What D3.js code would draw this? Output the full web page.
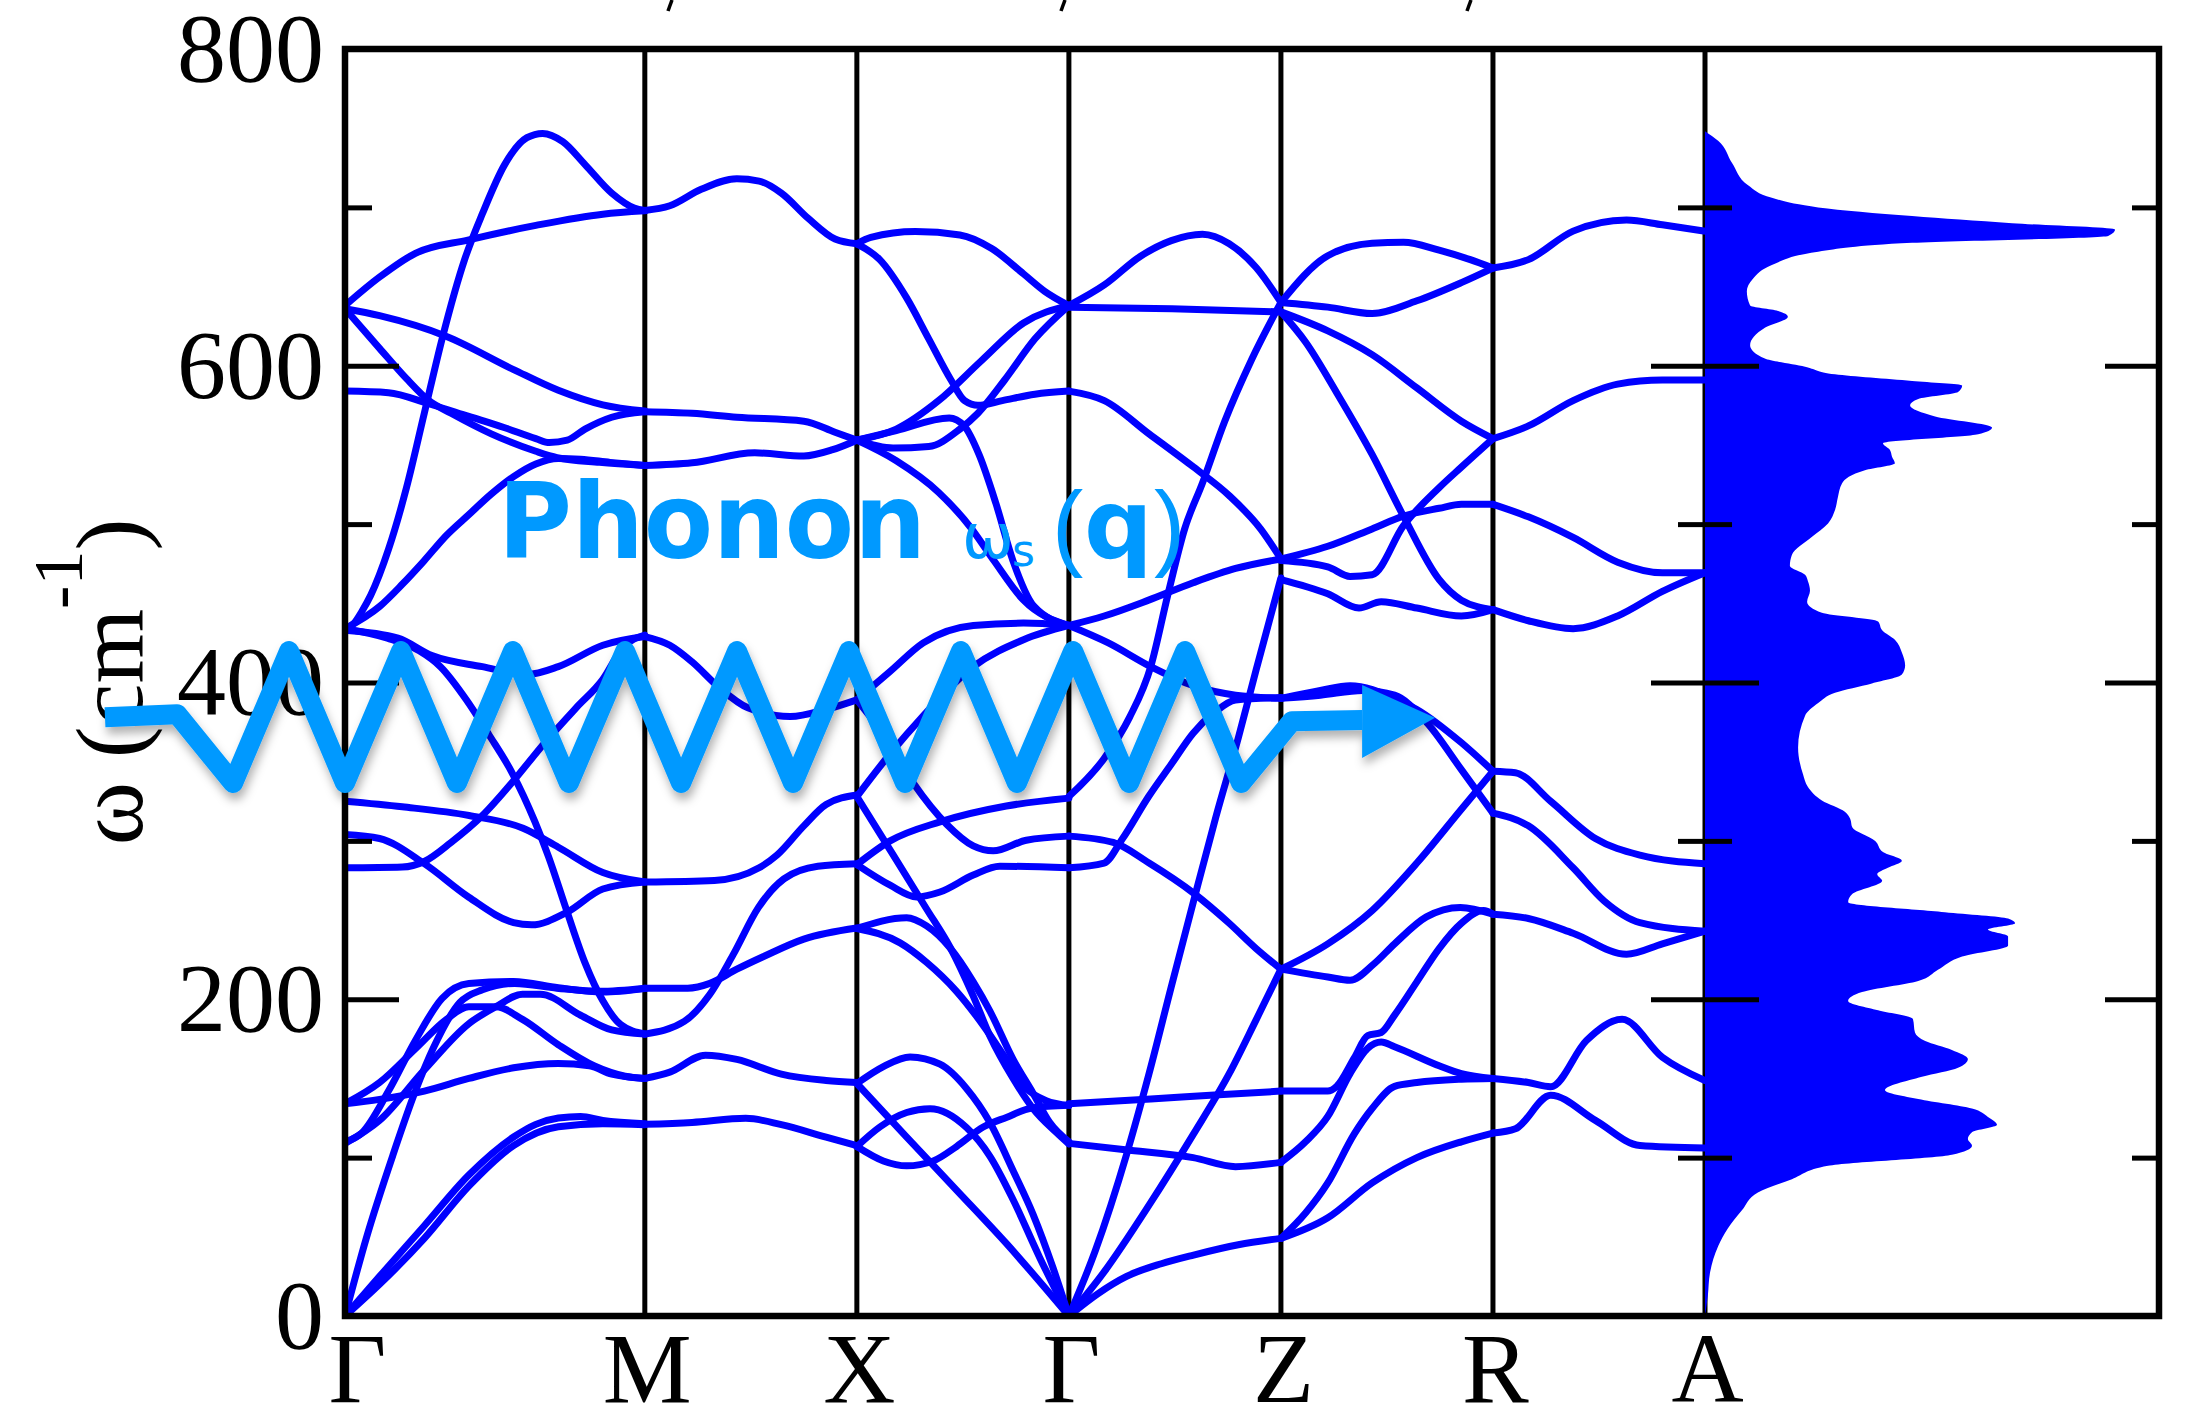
<!DOCTYPE html>
<html>
<head>
<meta charset="utf-8">
<script src="https://cdn.jsdelivr.net/npm/d3@7"></script>
<style>
  html, body { margin: 0; padding: 0; background: #fff; }
  svg { display: block; }
</style>
</head>
<body>
<svg id="chart" width="2188" height="1412"></svg>
<script>
// high-symmetry path, distance in units of a*/2
const pathLabels = ['Γ', 'M', 'X', 'Γ', 'Z', 'R', 'A'];
const pathK = [0, 1.414, 2.414, 3.414, 4.414, 5.414, 6.414];
const yTicks = [0, 200, 400, 600, 800];
const yMinor = [100, 300, 500, 700];

// phonon branches, [k, omega (cm-1)], one list per segment
const gammaM = [
  [[0,434],[0.04,437],[0.08,445],[0.121,455],[0.205,484],[0.29,523],[0.374,570],[0.458,617],[0.564,667],[0.648,696],[0.753,727],[0.858,744],[0.932,746.7],[1.027,741.5],[1.132,727],[1.258,709],[1.364,699.6],[1.414,698]],
  [[0,638],[0.163,656],[0.332,671],[0.584,679.5],[0.9,688.6],[1.216,695.7],[1.414,697.8]],
  [[0,636],[0.163,631.6],[0.479,618.5],[0.795,597.6],[1.006,584.5],[1.216,575.3],[1.414,571.4]],
  [[0,636],[0.163,611],[0.289,592],[0.395,578],[0.5,570],[0.69,557],[0.9,546],[1.0,542],[1.2,539],[1.414,537]],
  [[0,584],[0.205,583],[0.395,576],[0.584,568],[0.75,561],[0.9,554],[0.964,551.5],[1.048,553],[1.132,560],[1.258,567.5],[1.414,571]],
  [[0,434],[0.163,448],[0.27,462],[0.374,477],[0.479,493],[0.584,506],[0.69,519],[0.795,530],[0.9,538],[1.006,541.5],[1.111,541],[1.25,539],[1.414,537]],
  [[0,433],[0.25,428],[0.41,417],[0.648,410],[0.858,405],[1.006,410],[1.216,423.5],[1.414,429]],
  [[0,434],[0.2,428],[0.35,420],[0.45,410],[0.573,389],[0.679,367],[0.788,343],[0.896,312],[0.96,290],[1.048,255],[1.132,223],[1.216,199],[1.3,184],[1.414,178]],
  [[0,283],[0.27,283.5],[0.374,287],[0.5,299],[0.648,316],[0.795,338],[0.942,362],[1.09,384],[1.216,402],[1.31,422],[1.414,430]],
  [[0,325],[0.27,321.5],[0.585,316],[0.84,308],[1.006,296],[1.216,280],[1.414,274]],
  [[0,304],[0.163,301.5],[0.374,285.6],[0.584,264.4],[0.795,248.4],[0.88,247],[1.048,255],[1.216,269.6],[1.414,274]],
  [[0,134],[0.163,136.8],[0.374,142],[0.584,150],[0.795,156.7],[1.006,159.4],[1.153,158],[1.258,152.7],[1.414,150]],
  [[0,110],[0.079,115.5],[0.205,142],[0.332,174],[0.458,200.6],[0.584,209.9],[0.795,211.2],[1.006,207.2],[1.216,204.5],[1.414,206.7]],
  [[0,108.9],[0.163,123.5],[0.374,155.4],[0.584,184.6],[0.711,195.2],[0.837,203.2],[0.921,203.2],[1.111,189.9],[1.258,180.6],[1.414,178]],
  [[0,134],[0.163,147.4],[0.332,168.7],[0.479,187.3],[0.584,195.2],[0.711,195.2],[0.837,187.3],[1.006,171.3],[1.174,158],[1.321,151.4],[1.414,150]],
  [[0,0],[0.1,49],[0.227,102],[0.332,142],[0.416,169],[0.542,198],[0.648,206],[0.8,210],[1.0,207],[1.2,205],[1.414,207]],
  [[0,0],[0.163,25],[0.374,57],[0.584,89],[0.795,113],[0.9,121],[1.006,125],[1.111,126],[1.216,123.5],[1.414,121.4]],
  [[0,0],[0.163,20],[0.374,49],[0.584,82],[0.795,107.6],[1.006,119.5],[1.216,121.4],[1.414,120.8]]
];

const mX = [
  [[1.414,698],[1.532,701],[1.68,711.4],[1.848,718],[1.953,716.6],[2.058,709],[2.185,693],[2.311,680],[2.414,677]],
  [[1.414,571],[1.637,570],[1.848,567.5],[2.164,565],[2.311,558],[2.414,553]],
  [[1.414,537],[1.637,538.7],[1.932,545],[2.164,543],[2.3,547],[2.414,553]],
  [[1.414,429],[1.532,423.5],[1.637,413],[1.763,397],[1.9,384],[2.1,378.5],[2.27,383],[2.414,389]],
  [[1.414,274],[1.742,275],[1.953,283],[2.037,291],[2.164,309.5],[2.269,323],[2.414,329]],
  [[1.414,178],[1.6,186],[1.72,203],[1.83,228],[1.95,258],[2.07,276],[2.23,284],[2.414,285.6]],
  [[1.414,207],[1.616,207],[1.721,210],[1.848,219],[1.974,227],[2.164,238],[2.414,245]],
  [[1.414,150],[1.532,154],[1.7,164.7],[1.848,162],[2.058,152.7],[2.269,148.7],[2.414,147.4]],
  [[1.414,121],[1.637,122.2],[1.89,124.8],[2.058,120.8],[2.269,112.9],[2.414,107.6]]
];

const xGamma = [
  [[2.414,677],[2.48,681],[2.69,684.7],[2.9,682.6],[3.05,674],[3.2,658],[3.3,647],[3.414,638]],
  [[2.414,677],[2.522,667],[2.648,643],[2.753,617],[2.858,591],[2.922,578],[2.985,575],[3.1,578],[3.254,582],[3.414,584]],
  [[2.414,553],[2.6,560],[2.8,578],[3.0,603],[3.2,627],[3.414,638]],
  [[2.414,553],[2.585,548],[2.753,549],[2.9,560],[2.985,570],[3.111,591],[3.254,617],[3.414,638]],
  [[2.414,553],[2.6,559],[2.85,567],[2.92,562],[2.99,544],[3.07,513],[3.15,477],[3.25,448],[3.414,436]],
  [[2.414,553],[2.6,540],[2.8,520],[2.95,498],[3.06,477],[3.2,452],[3.414,436]],
  [[2.414,389],[2.571,407],[2.727,425],[2.963,436],[3.2,437.5],[3.414,436]],
  [[2.414,328],[2.571,355],[2.727,379],[2.963,410],[3.2,427],[3.414,436]],
  [[2.414,328],[2.586,291],[2.743,257],[2.853,233],[2.963,202],[3.041,177],[3.151,150],[3.245,131],[3.354,116],[3.414,108.6]],
  [[2.414,285],[2.571,300],[2.806,312],[3.119,322],[3.414,327]],
  [[2.414,285],[2.571,272],[2.696,264.6],[2.806,267.7],[2.963,278.4],[3.088,284],[3.414,283]],
  [[2.414,389],[2.539,367],[2.68,336.5],[2.837,310.5],[2.963,296.8],[3.057,293.7],[3.213,300.4],[3.414,303]],
  [[2.414,244.7],[2.649,251.5],[2.743,246.3],[2.853,232.5],[2.963,211],[3.041,192.7],[3.151,162],[3.245,140.7],[3.323,122.3],[3.414,110]],
  [[2.414,244.7],[2.618,235.6],[2.743,223.3],[2.884,205],[3.01,183.5],[3.119,162],[3.213,143.7],[3.307,136],[3.414,133]],
  [[2.414,146.8],[2.539,157.5],[2.665,163.6],[2.806,159],[2.931,143.7],[3.041,122.3],[3.151,91.7],[3.245,64.2],[3.339,30.5],[3.414,0]],
  [[2.414,146.8],[2.649,113],[2.884,79.5],[3.119,45.8],[3.414,0]],
  [[2.414,107],[2.524,119.5],[2.649,128.5],[2.759,130.9],[2.931,119],[3.041,101],[3.151,73.4],[3.276,37],[3.414,0]],
  [[2.414,107],[2.539,97.9],[2.649,94.8],[2.774,97.9],[2.884,107],[3.01,119.3],[3.119,125.4],[3.245,131.5],[3.414,133]]
];

const gammaZ = [
  [[3.414,638],[3.581,651],[3.75,669],[3.897,679],[4.044,683],[4.17,677],[4.297,662],[4.414,640]],
  [[3.414,637],[3.9,636],[4.414,634]],
  [[3.414,584],[3.581,578],[3.792,557],[4.002,536],[4.17,518],[4.318,497],[4.414,478]],
  [[3.414,436],[3.58,442],[3.79,452],[4.0,463],[4.2,472],[4.414,478]],
  [[3.414,436],[3.6,425],[3.8,410],[4.0,398],[4.2,392],[4.414,390]],
  [[3.414,328],[3.58,352],[3.7,378],[3.8,410],[3.88,455],[3.96,497],[4.044,526],[4.149,565],[4.276,604],[4.414,640]],
  [[3.414,283],[3.58,286],[3.665,301],[3.79,328],[3.9,349],[4.0,368],[4.1,381],[4.2,389],[4.414,390.5]],
  [[3.414,303],[3.623,299],[3.792,286],[4.002,267],[4.17,248],[4.297,232],[4.414,219]],
  [[3.414,0],[3.581,28],[3.792,70],[4.002,115],[4.17,153],[4.297,187],[4.414,219]],
  [[3.414,0],[3.55,14],[3.686,25],[3.85,33],[4.002,38.5],[4.213,45],[4.414,49]],
  [[3.414,0],[3.538,41],[3.686,102],[3.792,153],[3.897,208],[4.002,262],[4.107,315],[4.213,365],[4.297,408],[4.414,466]],
  [[3.414,134],[3.8,137],[4.1,139.5],[4.414,142]],
  [[3.414,109],[3.68,105],[4.0,100],[4.2,94.3],[4.414,97]]
];

const zR = [
  [[4.414,640],[4.635,669.5],[4.844,677.4],[4.992,678],[5.16,673],[5.307,667],[5.414,661.7]],
  [[4.414,640],[4.635,637],[4.844,633],[5.055,641],[5.265,652.5],[5.414,661.7]],
  [[4.414,634],[4.635,622],[4.844,607],[5.055,586],[5.265,565],[5.414,554]],
  [[4.414,634],[4.53,615],[4.677,583],[4.844,544],[4.992,505],[5.16,465],[5.265,452],[5.414,446]],
  [[4.414,478],[4.635,486],[4.844,497],[4.992,505],[5.16,510],[5.265,512.5],[5.414,512.5]],
  [[4.414,477],[4.635,473],[4.74,467],[4.844,468],[4.992,499],[5.16,523],[5.265,536],[5.414,554]],
  [[4.414,465],[4.635,456],[4.782,447],[4.887,451],[5.055,447],[5.265,442],[5.414,446]],
  [[4.414,390],[4.6,395],[4.74,398],[4.95,390],[5.055,383],[5.265,362],[5.414,344]],
  [[4.414,390],[4.6,392],[4.8,395],[4.95,392],[5.1,375],[5.265,345],[5.414,317.5]],
  [[4.414,219],[4.635,214],[4.74,212],[4.85,222],[4.95,235],[5.1,252],[5.26,258],[5.414,253.7]],
  [[4.414,142],[4.635,142],[4.677,145],[4.76,163],[4.823,177],[4.887,179],[4.95,190],[5.055,211],[5.16,232],[5.265,248],[5.37,256],[5.414,253.7]],
  [[4.414,219],[4.635,235],[4.844,256],[5.055,286],[5.265,320],[5.414,344]],
  [[4.414,97],[4.53,110],[4.635,126],[4.74,153],[4.823,169],[4.887,173],[4.95,170],[5.16,158],[5.265,153],[5.414,150]],
  [[4.414,49],[4.53,65],[4.635,84],[4.76,115],[4.844,131],[4.95,145],[5.055,147.4],[5.265,149.5],[5.414,150]],
  [[4.414,49],[4.635,62],[4.844,84],[5.055,100],[5.265,110],[5.414,115.5]]
];

const rA = [
  [[5.414,661.7],[5.581,667],[5.792,685],[6.044,692],[6.213,689],[6.414,685]],
  [[5.414,554],[5.581,562],[5.792,578],[6.002,588.4],[6.213,591],[6.414,591]],
  [[5.414,512.5],[5.581,504.6],[5.792,491.6],[6.002,476],[6.213,469.3],[6.414,469.3]],
  [[5.414,446],[5.581,439],[5.792,434],[6.002,442],[6.213,457.5],[6.414,469.3]],
  [[5.414,344],[5.52,343],[5.686,325],[5.897,301.5],[6.107,291],[6.414,285.6]],
  [[5.414,317.5],[5.581,309.5],[5.792,283],[5.939,262],[6.107,248.4],[6.414,243]],
  [[5.414,253.7],[5.581,251],[5.792,241.7],[6.044,228.4],[6.213,235],[6.414,243]],
  [[5.414,150],[5.581,147.4],[5.686,144.7],[5.855,174],[6.023,187.3],[6.213,163.4],[6.414,148.7]],
  [[5.414,115.5],[5.52,118.2],[5.686,139.4],[5.897,123.5],[6.107,107.6],[6.414,106]]
];

// phonon density of states, [omega, DOS (arb. units)]
const dos = [
  [748,0],[742,3.2],[728,6.6],[714,10.5],[706,16.3],[700,27.6],[694.5,50.5],[690,74.9],[686,100],[682,98.3],
  [677.6,50.5],[672,27.6],[663.6,16.3],[655,11.7],[647,10.2],[638,11],[634.6,17.8],[631,20.2],[624,14.6],[613,11],
  [604.5,14.6],[599.4,24.4],[594.6,31.7],[590.4,50.5],[587.6,62.7],[583.4,61.7],[579,52],[575,50],[568,56.1],[561,70],
  [556.7,66.6],[551,43.4],[546.8,45.1],[542.6,45.6],[538.4,46.3],[534,39],[525.7,33.4],[517,32.4],[508.9,31.7],[500.4,30],
  [492,26.1],[480.7,21.2],[473.7,20.7],[468,24.4],[463.9,25.1],[458,25.6],[451,24.9],[444,28.5],[438.5,42.2],[433,43.2],
  [427,46.3],[419,48],[410.8,48.8],[405,48],[399.4,40.7],[393.5,31.7],[387,27.6],[379,24.4],[359,22.7],[342,23.9],
  [334,25.1],[325.5,28.5],[318.4,34.1],[314,35.4],[308.6,35.9],[300,41.5],[293,43.4],[287.5,48],[283,44.6],[279,42],
  [274.8,43.2],[266.4,35.9],[261.3,34.9],[255,58.5],[251,73.9],[248,75.6],[244,69],[239.7,73.9],[234,73.9],[227,62.7],
  [218.6,56.8],[211.5,52],[204.5,38.3],[198.9,34.9],[193,42.2],[187.6,50.7],[179,51.2],[173.6,53.7],[168,60.2],[162.3,64.1],
  [156.7,61.7],[151,52.9],[142.6,43.9],[137,52],[131,65.1],[125.7,69],[120.7,71.2],[116,65.1],[111.7,64.1],[107.5,65.1],
  [101.8,60.2],[94.8,30],[86.4,21.2],[78,12.9],[66.7,9],[55.4,5.6],[44,3.2],[27,1.2],[13,0.7],[0,0]
];

// schematic phonon arrow drawn across the bands, [k, omega]
const zigzag = [
  [-1.132,378],[-0.792,380],[-0.528,336.5],[-0.264,419.8],[0,336.5],[0.264,419.8],[0.528,336.5],[0.792,419.8],
  [1.056,336.5],[1.321,419.8],[1.585,336.5],[1.849,419.8],[2.113,336.5],[2.377,419.8],[2.641,336.5],[2.905,419.8],
  [3.169,336.5],[3.434,419.8],[3.698,336.5],[3.962,419.8],[4.226,336.5],[4.466,375.6],[4.797,376.3]
];
const arrowHead = [[4.797,398.4],[5.141,377.8],[4.797,352.3]];

const blue = '#0000ff';
const sky = '#0099ff';
const serif = "'Liberation Serif', 'Times New Roman', Times, serif";

const plot = { left: 345, right: 2159, top: 49, bottom: 1316, split: 1705 };

const x = d3.scaleLinear().domain([0, 6.414]).range([plot.left, plot.split]);
const y = d3.scaleLinear().domain([0, 800]).range([plot.bottom, plot.top]);
const xDos = d3.scaleLinear().domain([0, 110.7]).range([plot.split, plot.right]);

const svg = d3.select('#chart');
const defs = svg.append('defs');

defs.append('clipPath').attr('id', 'bandClip')
  .append('rect')
  .attr('x', plot.left).attr('y', plot.top)
  .attr('width', plot.split - plot.left).attr('height', plot.bottom - plot.top);

const shadow = defs.append('filter').attr('id', 'shadow')
  .attr('x', '-10%').attr('y', '-30%').attr('width', '120%').attr('height', '160%');
shadow.append('feDropShadow')
  .attr('dx', 2).attr('dy', 7).attr('stdDeviation', 5)
  .attr('flood-color', '#000').attr('flood-opacity', 0.3);

// vertical lines at the high-symmetry points
svg.append('g')
  .selectAll('line')
  .data(pathK.slice(1))
  .join('line')
  .attr('x1', d => x(d)).attr('x2', d => x(d))
  .attr('y1', plot.top).attr('y2', plot.bottom)
  .attr('stroke', '#000')
  .attr('stroke-width', 5);

// bands
const band = d3.line()
  .x(d => x(d[0]))
  .y(d => y(d[1]))
  .curve(d3.curveMonotoneX);

const segments = [gammaM, mX, xGamma, gammaZ, zR, rA];
svg.append('g')
  .attr('clip-path', 'url(#bandClip)')
  .selectAll('path')
  .data(segments.flat())
  .join('path')
  .attr('d', band)
  .attr('fill', 'none')
  .attr('stroke', blue)
  .attr('stroke-width', 7)
  .attr('stroke-linecap', 'round')
  .attr('stroke-linejoin', 'round');

// density of states
const dosArea = d3.area()
  .y(d => y(d[0]))
  .x0(xDos(0))
  .x1(d => xDos(d[1]))
  .curve(d3.curveMonotoneY);

svg.append('path')
  .datum(dos)
  .attr('d', dosArea)
  .attr('fill', blue);

// ticks
function tickAxis(pos, axis) {
  const g = svg.append('g')
    .attr('transform', `translate(${pos},0)`)
    .call(axis);
  g.select('.domain').remove();
  g.selectAll('.tick line').attr('stroke', '#000').attr('stroke-width', 5);
  return g;
}
tickAxis(plot.left, d3.axisRight(y).tickValues(yTicks).tickSize(54).tickFormat(''));
tickAxis(plot.left, d3.axisRight(y).tickValues(yMinor).tickSize(27).tickFormat(''));
tickAxis(plot.split, d3.axisLeft(y).tickValues(yTicks).tickSize(54).tickFormat(''));
tickAxis(plot.split, d3.axisLeft(y).tickValues(yMinor).tickSize(27).tickFormat(''));
tickAxis(plot.split, d3.axisRight(y).tickValues(yTicks).tickSize(54).tickFormat(''));
tickAxis(plot.split, d3.axisRight(y).tickValues(yMinor).tickSize(27).tickFormat(''));
tickAxis(plot.right, d3.axisLeft(y).tickValues(yTicks).tickSize(54).tickFormat(''));
tickAxis(plot.right, d3.axisLeft(y).tickValues(yMinor).tickSize(27).tickFormat(''));

// frame
svg.append('rect')
  .attr('x', plot.left).attr('y', plot.top)
  .attr('width', plot.right - plot.left).attr('height', plot.bottom - plot.top)
  .attr('fill', 'none')
  .attr('stroke', '#000')
  .attr('stroke-width', 6.5);

// y tick labels
const yLab = svg.append('g')
  .attr('transform', `translate(${plot.left},0)`)
  .call(d3.axisLeft(y).tickValues(yTicks).tickSize(0).tickPadding(21));
yLab.select('.domain').remove();
yLab.attr('font-size', 98).attr('font-family', serif);
yLab.selectAll('text').attr('fill', '#000');

// k-point labels
const xLab = svg.append('g')
  .attr('transform', `translate(0,${plot.bottom})`)
  .call(d3.axisBottom(x).tickValues(pathK).tickFormat((d, i) => pathLabels[i]).tickSize(0).tickPadding(15));
xLab.select('.domain').remove();
xLab.attr('font-size', 100).attr('font-family', serif);
xLab.selectAll('text').attr('fill', '#000')
  .attr('dx', (d, i) => i === 0 ? 12 : 2);

// y axis title
const yTitle = svg.append('text')
  .attr('transform', 'translate(142,682) rotate(-90)')
  .attr('text-anchor', 'middle')
  .attr('font-family', serif)
  .attr('font-size', 96)
  .attr('fill', '#000');
yTitle.append('tspan').text('ω (cm');
yTitle.append('tspan').attr('font-size', 70).attr('dy', -60).text('-1');
yTitle.append('tspan').attr('dy', 60).text(')');

// fragments of a cropped caption above the frame
const topMarks = [670, 1063, 1469];
svg.append('g')
  .selectAll('line')
  .data(topMarks)
  .join('line')
  .attr('x1', d => d - 2).attr('x2', d => d + 2)
  .attr('y1', 11).attr('y2', 0)
  .attr('stroke', '#000')
  .attr('stroke-width', 3.5);

// phonon annotation
const ann = svg.append('g').attr('filter', 'url(#shadow)');
ann.append('path')
  .datum(zigzag)
  .attr('d', d3.line().x(d => x(d[0])).y(d => y(d[1])))
  .attr('fill', 'none')
  .attr('stroke', sky)
  .attr('stroke-width', 20)
  .attr('stroke-linejoin', 'round')
  .attr('stroke-linecap', 'butt');
ann.append('path')
  .datum(arrowHead)
  .attr('d', d3.line().x(d => x(d[0])).y(d => y(d[1])).curve(d3.curveLinearClosed))
  .attr('fill', sky);

const label = svg.append('text')
  .attr('y', 558)
  .attr('fill', sky)
  .attr('font-family', "'DejaVu Sans', Verdana, sans-serif");
label.append('tspan').attr('x', 498).attr('font-weight', 'bold').attr('font-size', 106)
  .attr('textLength', 428).attr('lengthAdjust', 'spacingAndGlyphs').text('Phonon');
label.append('tspan').attr('x', 962).attr('font-size', 62).text('ω');
label.append('tspan').attr('x', 1012).attr('dy', 8).attr('font-size', 44).text('s');
label.append('tspan').attr('x', 1052).attr('dy', -8).attr('font-size', 94)
  .attr('font-family', "'Liberation Sans', Arial, sans-serif").text('(');
label.append('tspan').attr('x', 1084).attr('font-size', 96).attr('font-weight', 'bold').text('q');
label.append('tspan').attr('x', 1154).attr('font-size', 94)
  .attr('font-family', "'Liberation Sans', Arial, sans-serif").text(')');
</script>
</body>
</html>
